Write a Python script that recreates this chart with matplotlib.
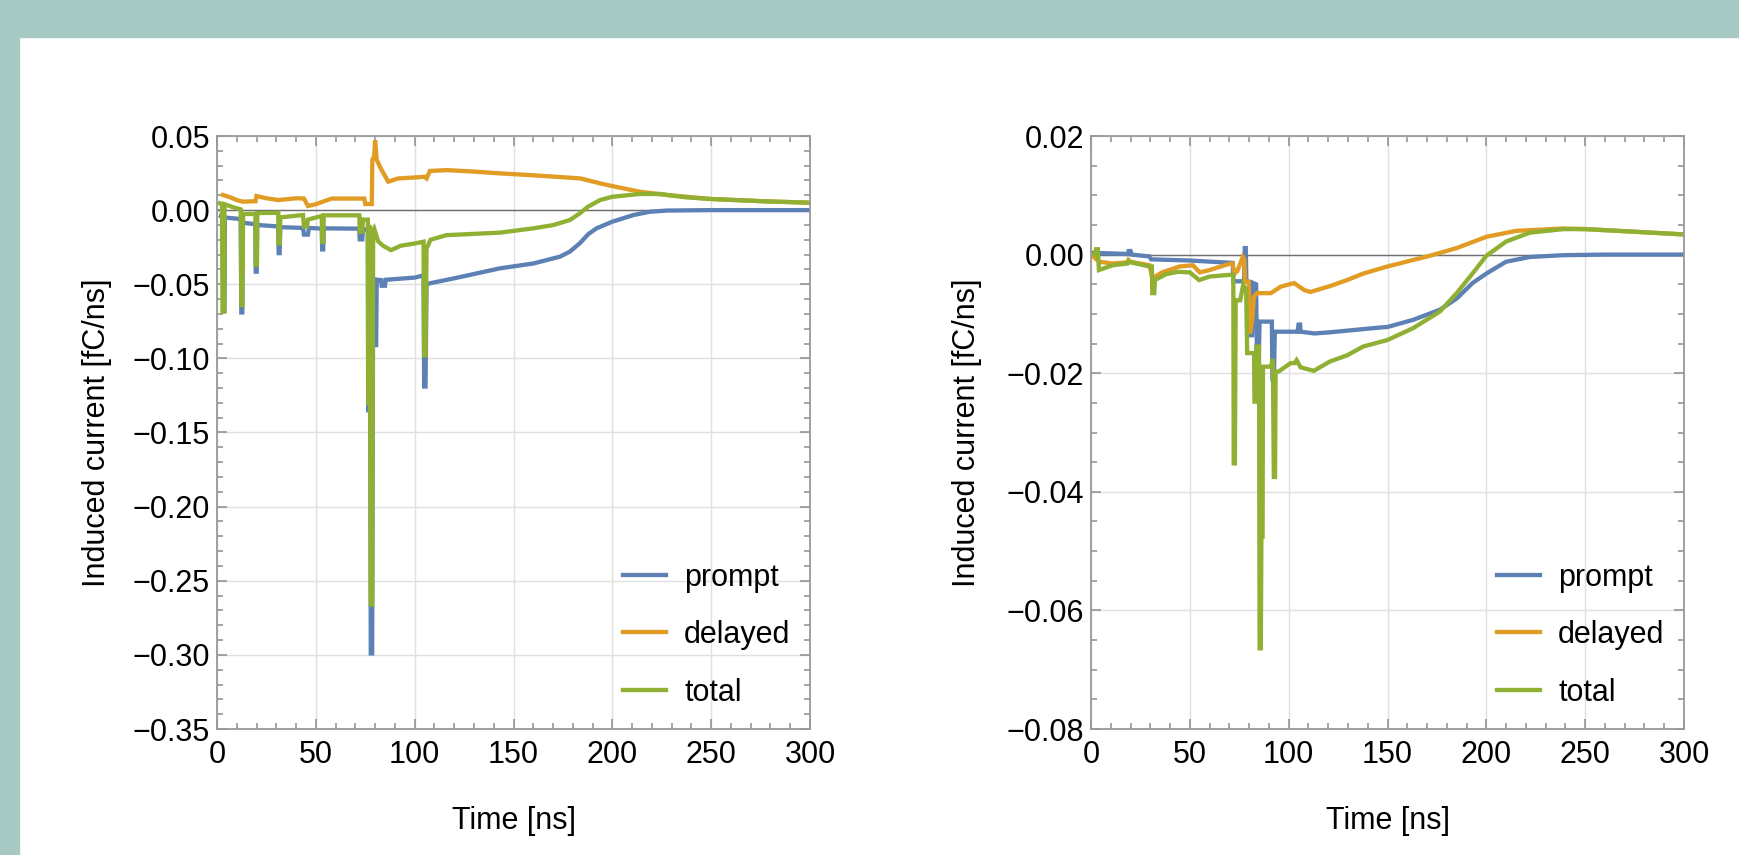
import numpy as np
import matplotlib
matplotlib.use("Agg")
import matplotlib.pyplot as plt
from matplotlib.patches import Rectangle
from matplotlib.ticker import MultipleLocator, FuncFormatter

plt.rcParams["font.family"] = ["Liberation Sans", "DejaVu Sans"]

# ---------------------------------------------------------------------------
# left panel
L_PROMPT_T = [2, 3, 3.3, 3.8, 4, 12, 12.3, 12.8, 13, 19.4, 19.6, 20.1, 20.3, 31, 31.2, 31.7,
              32, 43.5, 44, 46, 46.5, 53, 53.2, 53.7, 54, 72, 72.2, 73.5, 73.8, 76.3, 76.5,
              77, 77.3, 77.8, 78.5, 79, 79.8, 80, 80.5, 80.8, 83, 83.3, 85, 85.3, 100, 104.5,
              104.8, 105.5, 106, 120, 143, 160, 173.5, 178.5, 183.5, 188, 192, 200, 210.7,
              219, 227.5, 250, 300]
L_PROMPT_V = [-0.004, -0.0045, -0.068, -0.068, -0.005, -0.006, -0.069, -0.069, -0.0085,
              -0.0095, -0.0415, -0.0415, -0.010, -0.011, -0.029, -0.029, -0.0115, -0.012,
              -0.0165, -0.0165, -0.012, -0.0125, -0.0265, -0.0265, -0.0123, -0.0125, -0.0197,
              -0.0197, -0.013, -0.013, -0.135, -0.135, -0.02, -0.299, -0.299, -0.047, -0.047,
              -0.091, -0.091, -0.047, -0.0472, -0.051, -0.051, -0.047, -0.0455, -0.044,
              -0.119, -0.119, -0.0498, -0.046, -0.0393, -0.036, -0.0314, -0.028, -0.0224,
              -0.016, -0.0123, -0.0078, -0.0033, -0.0011, -0.0003, 0.0, 0.0]

L_DELAYED_T = [3, 6, 10, 13, 19.5, 20, 25, 31, 40, 44, 46, 50, 58, 74.5, 75, 78.3, 78.6, 79.5,
               80, 80.8, 82.5, 86.6, 91.7, 100, 105, 106, 107.7, 116, 130, 143, 160, 183.8,
               194, 200, 214, 227.5, 250, 277.7, 300]
L_DELAYED_V = [0.0102, 0.009, 0.0068, 0.0057, 0.006, 0.0095, 0.008, 0.0068, 0.008, 0.0078,
               0.0028, 0.004, 0.0078, 0.0078, 0.0041, 0.0041, 0.034, 0.036, 0.047, 0.034,
               0.029, 0.0192, 0.0214, 0.022, 0.0225, 0.0214, 0.0264, 0.027, 0.026, 0.0248,
               0.0235, 0.0214, 0.018, 0.0162, 0.0124, 0.0102, 0.0075, 0.0059, 0.005]

L_TOTAL_T = [1.5, 2.5, 2.8, 3.6, 3.8, 8, 12, 12.3, 12.9, 13.2, 19.4, 19.6, 20.2, 20.4, 31,
             31.2, 31.8, 32, 43.5, 44, 45.5, 46, 53, 53.2, 53.8, 54, 72, 72.2, 73.5, 73.8,
             76.3, 76.5, 77, 77.3, 77.8, 78.5, 79, 79.5, 81.5, 84, 88, 93, 100, 104.5, 104.8,
             105.5, 106, 108, 116, 143, 160, 170, 178.5, 183.5, 187.7, 193.8, 200, 214, 224,
             237.5, 250, 277.7, 300]
L_TOTAL_V = [0.0046, 0.004, -0.0685, -0.0685, 0.004, 0.002, 0.0005, -0.064, -0.064, -0.0026,
             -0.0026, -0.037, -0.037, -0.002, -0.0018, -0.0224, -0.0224, -0.0049, -0.0033,
             -0.011, -0.011, -0.0064, -0.0039, -0.0213, -0.0213, -0.0035, -0.0035, -0.0145,
             -0.0145, -0.0064, -0.0064, -0.13, -0.13, -0.01, -0.266, -0.266, -0.0135, -0.0123,
             -0.021, -0.024, -0.027, -0.024, -0.0225, -0.0213, -0.098, -0.098, -0.026, -0.02,
             -0.0169, -0.0152, -0.0123, -0.0101, -0.0067, -0.0022, 0.0023, 0.0068, 0.009,
             0.0109, 0.0109, 0.0086, 0.0075, 0.0059, 0.005]

# right panel
R_PROMPT_T = [0, 10, 18.5, 19, 20, 20.5, 29.5, 30.4, 50, 71.7, 72, 77, 77.5, 77.8, 78.3, 78.6,
              80.5, 81, 81.5, 82, 83.5, 84, 84.8, 85.3, 91.5, 91.8, 92.5, 93, 104.5, 105,
              105.8, 106, 113, 121, 146, 150, 163, 176.5, 185, 193, 200, 210, 222, 239, 260,
              300]
R_PROMPT_V = [0.0003, 0.0002, 0.0001, 0.0006, 0.0006, 0.0, -0.0003, -0.0008, -0.001, -0.0014,
              -0.0045, -0.0045, -0.004, 0.0011, 0.0011, -0.0045, -0.0046, -0.0136, -0.0136,
              -0.0048, -0.005, -0.0182, -0.0182, -0.0113, -0.0113, -0.021, -0.021, -0.013,
              -0.013, -0.0118, -0.0118, -0.013, -0.0133, -0.0131, -0.0123, -0.0122, -0.011,
              -0.0093, -0.0074, -0.0048, -0.0032, -0.0012, -0.0004, -0.0001, 0.0, 0.0]

R_DELAYED_T = [0, 4, 11, 18.5, 19, 20, 29.6, 31, 36, 44.8, 51.6, 55, 60, 69.6, 71.7, 72.5, 74,
               76.8, 77.5, 78, 79.8, 80.4, 81.6, 82.4, 84, 91, 96, 102.8, 104, 108, 111, 121,
               129.5, 137.7, 150, 171.4, 185, 200, 215, 239, 250, 272.5, 300]
R_DELAYED_V = [0.0, -0.0012, -0.0015, -0.0013, -0.0009, -0.0012, -0.0018, -0.004, -0.003,
               -0.002, -0.0018, -0.003, -0.0026, -0.0016, -0.0015, -0.0032, -0.0028, -0.0004,
               -0.0008, -0.0046, -0.0046, -0.0133, -0.011, -0.0071, -0.0065, -0.0065, -0.0054,
               -0.0048, -0.0051, -0.006, -0.0063, -0.0053, -0.0043, -0.0032, -0.002, -0.0002,
               0.0011, 0.003, 0.004, 0.0044, 0.0043, 0.0039, 0.0034]

R_TOTAL_T = [0, 2, 2.5, 3.5, 4, 11, 18.5, 19, 20, 29.5, 30.8, 31, 32, 32.3, 38, 44, 50, 54.7,
             60, 70.7, 72, 72.2, 72.8, 73.2, 75.5, 77, 78.5, 79, 82.5, 82.7, 83.3, 83.6, 85,
             85.3, 85.9, 86.2, 86.8, 87, 91, 92, 92.5, 93.1, 93.4, 95, 101, 103, 104, 106,
             112.7, 121, 129.5, 137.7, 150, 163, 176.5, 185, 193, 200, 210, 222, 239, 250,
             272.5, 300]
R_TOTAL_V = [0.0, 0.0, 0.0009, 0.0009, -0.0026, -0.0018, -0.0015, -0.0011, -0.0013, -0.002,
             -0.002, -0.0065, -0.0065, -0.0043, -0.0033, -0.0029, -0.003, -0.0043, -0.0037,
             -0.0034, -0.0034, -0.0352, -0.0352, -0.0077, -0.0077, -0.0051, -0.006, -0.0166,
             -0.0166, -0.0248, -0.0248, -0.0155, -0.0155, -0.0664, -0.0664, -0.0476, -0.0476,
             -0.0189, -0.0189, -0.0176, -0.0375, -0.0375, -0.0197, -0.0197, -0.0183, -0.0183,
             -0.0178, -0.019, -0.0196, -0.018, -0.017, -0.0155, -0.0144, -0.0124, -0.0096,
             -0.0065, -0.0032, -0.0002, 0.0022, 0.0037, 0.0043, 0.0043, 0.0039, 0.0034]

LABELS = ["prompt", "delayed", "total"]
COLORS = ["#5e81b5", "#e19c24", "#8fb032"]
FS = 22
# ---------------------------------------------------------------------------

fig = plt.figure(figsize=(17.39, 8.55), dpi=100)
# teal frame on top/left edge
fig.patches.append(Rectangle((0, 1 - 37 / 855), 1, 37 / 855, transform=fig.transFigure,
                             color="#a6cac3", zorder=0))
fig.patches.append(Rectangle((0, 0), 19 / 1739, 1, transform=fig.transFigure,
                             color="#a6cac3", zorder=0))

W, H = 1739, 855
ax_l = fig.add_axes([217 / W, 1 - 729 / H, 593 / W, 593 / H])
ax_r = fig.add_axes([1091 / W, 1 - 729 / H, 593 / W, 593 / H])


def fmt(v, _):
    s = f"{v:.2f}"
    if s == "-0.00":
        s = "0.00"
    return s.replace("-", "\u2212")


panels = [
    (ax_l, [(L_PROMPT_T, L_PROMPT_V), (L_DELAYED_T, L_DELAYED_V), (L_TOTAL_T, L_TOTAL_V)],
     (-0.35, 0.05), 0.05, 0.01, 15),
    (ax_r, [(R_PROMPT_T, R_PROMPT_V), (R_DELAYED_T, R_DELAYED_V), (R_TOTAL_T, R_TOTAL_V)],
     (-0.08, 0.02), 0.02, 0.005, 18),
]

for ax, series, ylim, ymaj, ymin, lpad in panels:
    ax.axhline(0, color="#6e6e6e", lw=1.0, zorder=1)
    for (t, v), lab, col in zip(series, LABELS, COLORS):
        ax.plot(t, v, color=col, lw=3.1, label=lab, zorder=2, solid_joinstyle="miter")

    ax.set_xlim(0, 300)
    ax.set_ylim(*ylim)
    ax.xaxis.set_major_locator(MultipleLocator(50))
    ax.xaxis.set_minor_locator(MultipleLocator(10))
    ax.yaxis.set_major_locator(MultipleLocator(ymaj))
    ax.yaxis.set_minor_locator(MultipleLocator(ymin))
    ax.yaxis.set_major_formatter(FuncFormatter(fmt))
    ax.grid(True, which="major", color="#e0e0e0", lw=1.0)
    ax.set_axisbelow(True)

    ax.tick_params(which="both", direction="in", top=True, right=True, color="#8c8c8c",
                   labelsize=FS, width=1.1)
    ax.tick_params(which="major", length=7)
    ax.tick_params(which="minor", length=4)
    ax.tick_params(axis="x", pad=8)
    ax.tick_params(axis="y", pad=5)
    for sp in ax.spines.values():
        sp.set_color("#999999")
        sp.set_linewidth(1.3)

    ax.set_xlabel("Time [ns]", fontsize=FS, labelpad=26)
    ax.set_ylabel("Induced current [fC/ns]", fontsize=FS, labelpad=lpad)

    ax.legend(loc="lower left", bbox_to_anchor=(0.685, 0.036), frameon=False, fontsize=FS,
              borderpad=0, borderaxespad=0, handlelength=1.4, handletextpad=0.59,
              labelspacing=0.9)

fig.savefig("out.png", dpi=100, facecolor="white")
